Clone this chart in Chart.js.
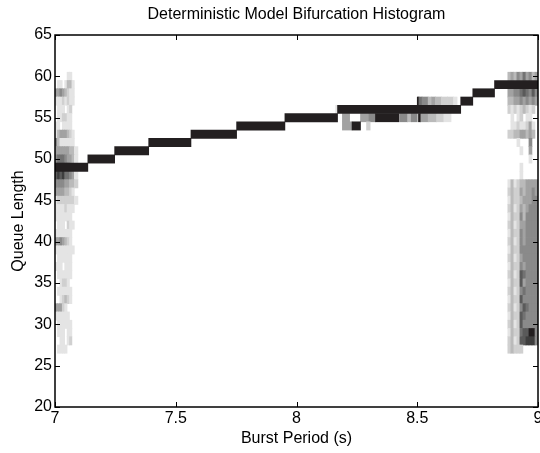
<!DOCTYPE html>
<html>
<head>
<meta charset="utf-8">
<script src="https://cdn.jsdelivr.net/npm/chart.js@4/dist/chart.umd.min.js"></script>
<style>
  html, body { margin: 0; padding: 0; background: #fff; }
  #wrap { position: relative; width: 540px; height: 453px; }
</style>
</head>
<body>
<div id="wrap"><canvas id="c"></canvas></div>
<script>
// ---------- data ----------
const chartTitle = 'Deterministic Model Bifurcation Histogram';
const xTitle = 'Burst Period (s)';
const yTitle = 'Queue Length';
const xTickValues = [7, 7.5, 8, 8.5, 9];
const yTickValues = [20, 25, 30, 35, 40, 45, 50, 55, 60, 65];

// main (dark) branch: one queue length per burst-period interval
const stepValue = [49, 50, 51, 52, 53, 54, 55, 56, 57, 58, 59];
const stepStart = [7.000, 7.136, 7.247, 7.388, 7.563, 7.752, 7.952, 8.170, 8.680, 8.730, 8.820];
const stepEnd   = [7.136, 7.247, 7.388, 7.563, 7.752, 7.952, 8.170, 8.680, 8.730, 8.820, 9.000];

// left chaotic band (histogram density 0-9 per cell)
const leftEdges = [7.000, 7.010, 7.020, 7.030, 7.040, 7.050, 7.060, 7.070, 7.080, 7.095];
const leftRows = [60, 59, 58, 57, 56, 55, 54, 53, 52, 51, 50, 49, 48, 47, 46, 45, 44,
                  43, 42, 41, 40, 39, 38, 37, 36, 35, 34, 33, 32, 31, 30, 29, 28, 27];
const leftLevels = [
  "000001100", "011013310", "445432110", "111212110", "011101200", "011221100",
  "110111100", "134443210", "531111110", "444444331", "566654431", "777777000",
  "787866541", "555544332", "444433210", "122222221", "111121110", "111111100",
  "011102110", "111111100", "445432100", "111111110", "011111100", "111011100",
  "011111100", "001221000", "011111100", "001232100", "444210000", "111111000",
  "011111100", "011101100", "001101200", "011110000"
];

// right chaotic band
const rightEdges = [8.875, 8.8875, 8.900, 8.9125, 8.925, 8.9375, 8.950, 8.9625, 8.975, 8.9875, 9.000];
const rightRows = [60, 59, 58, 57, 56, 55, 54, 53, 52, 51, 50, 49, 48, 47, 46, 45, 44,
                   43, 42, 41, 40, 39, 38, 37, 36, 35, 34, 33, 32, 31, 30, 29, 28, 27];
const rightLevels = [
  "3435464534", "0000000000", "4455676575", "3344545454", "2121232120", "0101201100",
  "0112112410", "2233443430", "0001000500", "0000100400", "0000000100", "0000100000",
  "0000100000", "1312334444", "2322434454", "1322344455", "2312434555", "1322535555",
  "2312445555", "1322545555", "2312545555", "1322555555", "2312455555", "1322545555",
  "2312765555", "1322745555", "2312565555", "1322755555", "2312576555", "1322765555",
  "2312755555", "1322677995", "2312778885", "2322200000"
];

// scattered cells around 8.2 - 8.65
const midRow   = [57, 57, 57, 57, 57, 57, 57, 57, 57, 56,
                  55, 55, 55, 55, 55, 55, 55, 55, 55, 55, 55, 55,
                  54, 54, 54];
const midStart = [8.500, 8.507, 8.520, 8.545, 8.560, 8.575, 8.600, 8.625, 8.650, 8.162,
                  8.190, 8.265, 8.300, 8.327, 8.430, 8.460, 8.475, 8.505, 8.515, 8.545, 8.580, 8.610,
                  8.190, 8.230, 8.290];
const midEnd   = [8.507, 8.520, 8.545, 8.560, 8.575, 8.600, 8.625, 8.650, 8.665, 8.170,
                  8.220, 8.300, 8.327, 8.425, 8.460, 8.475, 8.500, 8.515, 8.545, 8.580, 8.610, 8.640,
                  8.230, 8.265, 8.305];
const midLevel = [9, 6, 5, 3, 4, 3, 2, 2, 1, 1,
                  4, 4, 5, 9, 5, 3, 5, 9, 4, 3, 2, 1,
                  4, 9, 2];

// ---------- build bar items ----------
function gridBars(edges, rows, levels) {
  const out = [];
  rows.forEach((row, r) => {
    for (let c = 0; c < edges.length - 1; c++) {
      const L = +levels[r][c];
      if (L > 0) out.push({ x: [edges[c], edges[c + 1]], y: row, level: L });
    }
  });
  return out;
}
const histBars = []
  .concat(gridBars(leftEdges, leftRows, leftLevels))
  .concat(gridBars(rightEdges, rightRows, rightLevels))
  .concat(midRow.map((r, i) => ({ x: [midStart[i], midEnd[i]], y: r, level: midLevel[i] })));
const stepBars = stepValue.map((v, i) => ({ x: [stepStart[i], stepEnd[i]], y: v }));

const DARK = '#231f20';
const shades = [255, 228, 208, 186, 162, 138, 114, 90, 62, 35];
function shade(L) {
  if (L >= 9) return DARK;
  const g = shades[L];
  return 'rgb(' + g + ',' + g + ',' + g + ')';
}

const FONT = 'Liberation Sans, Arial, Helvetica, sans-serif';

const frame = {
  id: 'frame',
  afterDatasetsDraw(chart) {
    const { ctx, chartArea: a, scales: { x, y } } = chart;
    ctx.save();
    ctx.strokeStyle = '#000';
    ctx.lineWidth = 1;
    ctx.beginPath();
    x.ticks.forEach(t => {
      const px = Math.round(x.getPixelForValue(t.value)) + 0.5;
      ctx.moveTo(px, a.bottom); ctx.lineTo(px, a.bottom - 5);
      ctx.moveTo(px, a.top); ctx.lineTo(px, a.top + 5);
    });
    y.ticks.forEach(t => {
      const py = Math.round(y.getPixelForValue(t.value)) + 0.5;
      ctx.moveTo(a.left, py); ctx.lineTo(a.left + 5, py);
      ctx.moveTo(a.right, py); ctx.lineTo(a.right - 5, py);
    });
    ctx.stroke();
    ctx.lineWidth = 1.5;
    ctx.strokeRect(a.left, a.top, a.right - a.left, a.bottom - a.top);
    ctx.restore();
  }
};

new Chart(document.getElementById('c'), {
  type: 'bar',
  data: {
    datasets: [
      {
        label: 'branch', data: stepBars, xAxisID: 'x', yAxisID: 'y',
        backgroundColor: DARK, borderWidth: 0, grouped: false,
        barPercentage: 1, categoryPercentage: 1, order: 0
      },
      {
        label: 'histogram', data: histBars, xAxisID: 'x', yAxisID: 'y',
        backgroundColor: c => shade(c.raw ? c.raw.level : 0), borderWidth: 0, grouped: false,
        barPercentage: 1, categoryPercentage: 1, order: 1
      }
    ]
  },
  options: {
    indexAxis: 'y',
    responsive: true,
    maintainAspectRatio: false,
    animation: false,
    events: [],
    layout: { padding: { left: 0, right: 2, top: 0, bottom: 0 } },
    plugins: { legend: { display: false }, title: { display: false }, tooltip: { enabled: false } },
    scales: {
      x: {
        type: 'linear', position: 'bottom', min: 7, max: 9, offset: false,
        grid: { display: false, drawTicks: false }, border: { display: false },
        afterBuildTicks: s => { s.ticks = xTickValues.map(v => ({ value: v })); },
        ticks: { padding: 2, color: '#000', font: { family: FONT, size: 16 }, maxRotation: 0, autoSkip: false, callback: v => String(v) },
        title: { display: true, text: xTitle, color: '#000', font: { family: FONT, size: 16 }, padding: { top: 0, bottom: 4.4 } },
        afterFit: s => { s.height = 46; s.paddingLeft = 0; s.paddingRight = 0; }
      },
      x2: {
        type: 'linear', position: 'top', min: 7, max: 9, display: true,
        grid: { display: false, drawTicks: false }, border: { display: false },
        ticks: { display: false },
        title: { display: true, text: chartTitle, color: '#000', font: { family: FONT, size: 16 }, padding: { top: 5, bottom: 0 } },
        afterFit: s => { s.height = 35; s.paddingLeft = 0; s.paddingRight = 0; }
      },
      y: {
        type: 'linear', position: 'left', min: 20, max: 65, offset: false,
        grid: { display: false, drawTicks: false }, border: { display: false },
        afterBuildTicks: s => { s.ticks = yTickValues.map(v => ({ value: v })); },
        ticks: { padding: 3, color: '#000', font: { family: FONT, size: 16 }, autoSkip: false, callback: v => String(v) },
        title: { display: true, text: yTitle, color: '#000', font: { family: FONT, size: 16 }, padding: { top: 8.6, bottom: 0 } },
        afterFit: s => { s.width = 55; s.paddingTop = 0; s.paddingBottom = 0; }
      }
    }
  },
  plugins: [frame]
});
</script>
</body>
</html>
